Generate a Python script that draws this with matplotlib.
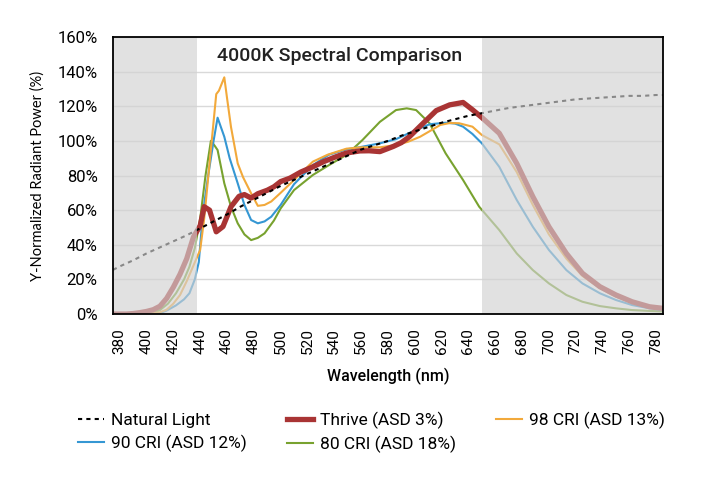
import matplotlib.pyplot as plt
from matplotlib.transforms import blended_transform_factory

plt.rcParams['font.family'] = ['Roboto', 'DejaVu Sans']

# Natural light (reference curve)
natural_wl = [375, 380, 390, 400, 410, 420, 430, 440, 450, 460, 470, 480, 490, 500,
              510, 520, 530, 540, 550, 560, 570, 580, 590, 600, 610, 620, 630, 640,
              650, 660, 670, 680, 690, 700, 710, 720, 730, 740, 750, 760, 770, 780, 785]
natural_val = [25.5, 27.5, 31, 35, 38.5, 42, 45.5, 49.5, 53.5, 57.5, 62, 66, 70, 74,
               77.5, 81, 84.5, 88, 91.5, 95, 97.5, 100, 103, 105.5, 108, 110.5, 112.5, 114.5,
               116, 117.5, 119, 120, 121, 122, 123, 124, 124.5, 125, 125.5, 126, 126, 126.5, 126.5]

# Thrive (ASD 3%)
thrive_wl = [375, 385, 390, 395, 400, 405, 410, 415, 420, 425, 430, 435, 440, 443, 447,
             452, 457, 463, 469, 473, 478, 483, 490, 495, 500, 507, 515, 524, 532, 540,
             549, 559, 566, 574, 584, 590, 596, 606, 616, 626, 636, 643, 650, 663, 676,
             688, 700, 713, 725, 738, 750, 762, 775, 785]
thrive_val = [0, 0, 0.3, 0.8, 1.5, 2.5, 4.5, 9, 15.5, 23, 32, 44.5, 51, 62, 60,
              47.5, 50.5, 62, 68, 69, 67, 69.5, 71.5, 73.5, 76.5, 78.5, 82, 85, 88, 90.5,
              93, 94.2, 94.3, 93.8, 96.8, 99, 102.4, 110, 117.5, 120.8, 122.2, 118, 113.5, 104.4, 87,
              67.8, 50.4, 35, 23.5, 15.8, 11, 7.1, 4.2, 3.3]

# 98 CRI (ASD 13%)
cri98_wl = [375, 395, 405, 410, 415, 420, 425, 430, 435, 440, 443, 448, 452, 454, 458,
            460, 463, 468, 472, 478, 483, 488, 493, 500, 510, 524, 535, 549, 560, 574,
            586, 595, 604, 612, 619, 626, 633, 643, 650, 663, 676, 688, 700, 713, 725,
            738, 750, 762, 775, 785]
cri98_val = [0, 0, 0.5, 1, 2.5, 6, 11, 19, 28, 37, 55, 95, 127, 129, 136.7,
             125, 108, 87, 79, 69.7, 62.5, 63, 65, 70, 77.4, 88, 92, 95.5, 96.3, 96.3,
             97.6, 99.5, 102.4, 106, 109.2, 110.3, 110.2, 108.2, 103.4, 98, 82, 63, 46, 32, 22,
             15, 10, 6.5, 4, 3]

# 90 CRI (ASD 12%)
cri90_wl = [375, 400, 410, 415, 422, 428, 432, 436, 439, 442, 446, 450, 453, 458, 462,
            468, 473, 478, 483, 488, 493, 500, 510, 524, 536, 549, 560, 574, 586, 598,
            611, 623, 630, 636, 643, 650, 663, 676, 688, 700, 713, 725, 738, 750, 762,
            775, 785]
cri90_val = [0, 0, 0.6, 2, 5, 8.5, 12, 20, 30, 58, 80, 100, 113.4, 102.4, 90,
             75.5, 63, 54.3, 52.4, 53.5, 56.2, 63, 75, 86, 92, 95.1, 96.5, 98.6, 101, 105.3,
             109.6, 110.5, 110, 108.2, 104, 98.6, 85, 65.9, 50.4, 37, 25.4, 17.7, 12, 8.1, 5.2,
             3.3, 2.3]

# 80 CRI (ASD 18%)
cri80_wl = [375, 400, 405, 410, 416, 422, 428, 432, 436, 440, 444, 448, 451, 453, 458,
            463, 468, 473, 478, 483, 488, 495, 500, 510, 524, 536, 549, 561, 574, 586,
            594, 601, 611, 623, 636, 648, 663, 676, 688, 700, 713, 725, 738, 750, 762,
            775, 785]
cri80_val = [0, 0, 0.5, 2.3, 6, 12, 20, 27.3, 38, 55, 80, 100, 97, 94.7, 75.5,
             62, 52.4, 46, 42.7, 44, 46.6, 54, 61, 71.6, 80.3, 86, 91.9, 100.5, 111, 117.8,
             118.8, 117.8, 110.2, 92.8, 77.4, 62, 48.5, 35, 25.4, 17.7, 11, 7.1, 4.6, 3.3, 2.3,
             1.8, 1.5]

x_ticks = list(range(380, 781, 20))
y_ticks = list(range(0, 161, 20))

fig = plt.figure(figsize=(7.06, 4.78), dpi=100, facecolor='white')
ax = fig.add_axes([0.160, 0.343, 0.779, 0.5796])

ax.plot(cri80_wl, cri80_val, color='#78a22f', lw=1.5, zorder=3, label='80 CRI (ASD 18%)')
ax.plot(cri90_wl, cri90_val, color='#3597d3', lw=1.5, zorder=3, label='90 CRI (ASD 12%)')
ax.plot(cri98_wl, cri98_val, color='#f2a93b', lw=1.5, zorder=3, label='98 CRI (ASD 13%)')
ax.plot(thrive_wl, thrive_val, color='#a93434', lw=3.8, zorder=4, label='Thrive (ASD 3%)',
        solid_joinstyle='round')
ax.plot(natural_wl, natural_val, color='black', lw=1.5, ls=(0, (2, 2)), zorder=5,
        label='Natural Light')

# grey out-of-range bands drawn over the lines
ax.axvspan(375, 437.5, color='#d2d2d2', alpha=0.65, lw=0, zorder=6)
ax.axvspan(650, 785, color='#d2d2d2', alpha=0.65, lw=0, zorder=6)

ax.set_xlim(375, 785)
ax.set_ylim(0, 160)
ax.set_xticks(x_ticks)
ax.set_xticklabels([str(v) for v in x_ticks], rotation=90, fontsize=11)
ax.set_yticks(y_ticks)
ax.set_yticklabels([f'{v}%' for v in y_ticks], fontsize=12)
ax.tick_params(length=0)
ax.tick_params(axis='y', pad=11)
ax.tick_params(axis='x', pad=10)
ax.grid(axis='y', color='#d9d9d9', lw=1, zorder=1)
ax.set_axisbelow(True)
for s in ax.spines.values():
    s.set_linewidth(1.3)
    s.set_color('black')
    s.set_zorder(10)

ax.set_xlabel('Wavelength (nm)', fontsize=11.5, fontweight='medium', labelpad=10)
ax.set_ylabel('Y-Normalized Radiant Power (%)', fontsize=10.5, family=['Lato', 'DejaVu Sans'],
              labelpad=9)

tr = blended_transform_factory(ax.transData, ax.transAxes)
ax.text((437.5 + 650) / 2, 0.931, '4000K Spectral Comparison', transform=tr,
        ha='center', va='center', fontsize=14, fontweight='medium', color='#222222', zorder=11)

h, l = ax.get_legend_handles_labels()
order = [4, 1, 3, 0, 2]
fig.legend([h[i] for i in order], [l[i] for i in order], ncol=3, loc='center',
           bbox_to_anchor=(0.526, 0.096), frameon=False, fontsize=12.5,
           handlelength=1.5, handletextpad=0.4, columnspacing=2.3, labelspacing=0.38)

plt.savefig('out.png', dpi=100, facecolor='white')
